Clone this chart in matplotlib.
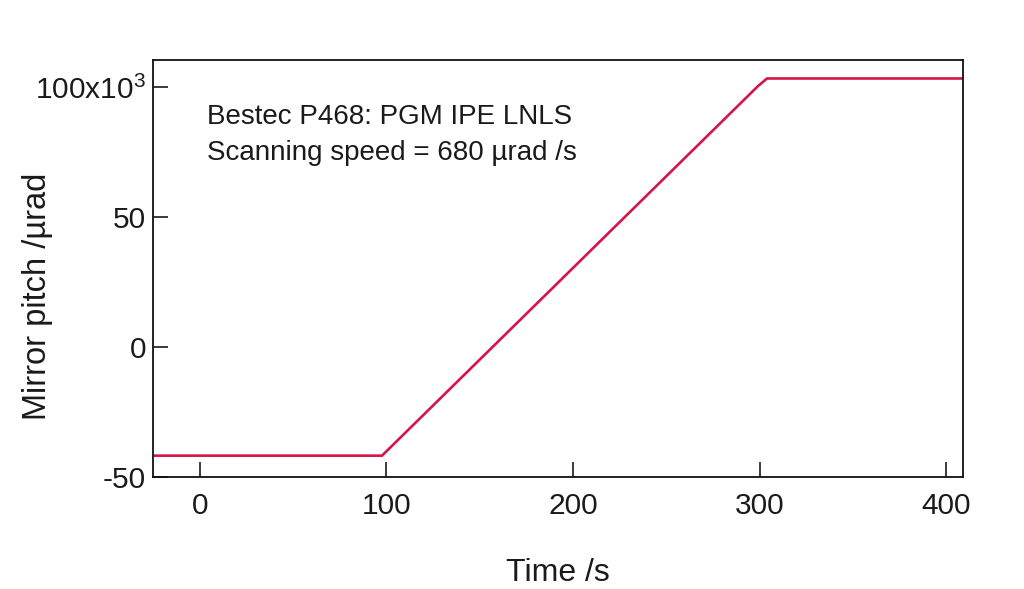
import matplotlib
matplotlib.use("Agg")
import matplotlib.pyplot as plt

# Data (time in s, pitch in units of 10^3 µrad)
time_s = [-25, 97.7, 299.2, 304, 409]
pitch_k = [-41.8, -41.8, 100.2, 103.1, 103.1]

x_ticks = [0, 100, 200, 300, 400]
x_ticklabels = ["0", "100", "200", "300", "400"]
y_ticks = [-50, 0, 50, 100]
y_ticklabels = ["-50", "0", "50", "100x10$^{\\mathregular{3}}$"]

annotation_lines = ["Bestec P468: PGM IPE LNLS", "Scanning speed = 680 µrad /s"]

plt.rcParams["font.family"] = ["Liberation Sans", "DejaVu Sans"]
plt.rcParams["mathtext.fontset"] = "custom"
plt.rcParams["mathtext.rm"] = "Liberation Sans"

fig = plt.figure(figsize=(10.24, 5.89), dpi=100)
ax = fig.add_axes([153 / 1024, (589 - 477) / 589, 810 / 1024, 417 / 589])

ax.plot(time_s, pitch_k, color="#D4154A", lw=1.9, solid_joinstyle="miter")

ax.set_xlim(-25, 409)
ax.set_ylim(-50, 110.2)
ax.set_xticks(x_ticks)
ax.set_xticklabels(x_ticklabels)
ax.set_yticks(y_ticks)
ax.set_yticklabels(y_ticklabels)
ax.tick_params(direction="in", length=11, width=1.2, labelsize=21.5, colors="#1a1a1a")
ax.tick_params(axis="x", pad=10.5)
ax.tick_params(axis="y", pad=5)
for s in ax.spines.values():
    s.set_linewidth(1.3)
    s.set_color("#111111")

ax.set_xlabel("Time /s", fontsize=23, color="#1a1a1a")
ax.xaxis.set_label_coords(0.5, -0.195)
ax.set_ylabel("Mirror pitch /µrad", fontsize=23.5, color="#1a1a1a")
ax.yaxis.set_label_coords(-0.123, 0.434)

ax.text(0.0667, 0.895, "\n".join(annotation_lines), transform=ax.transAxes,
        ha="left", va="top", fontsize=20, linespacing=1.5, color="#1a1a1a")

fig.savefig("out.png", dpi=100)
